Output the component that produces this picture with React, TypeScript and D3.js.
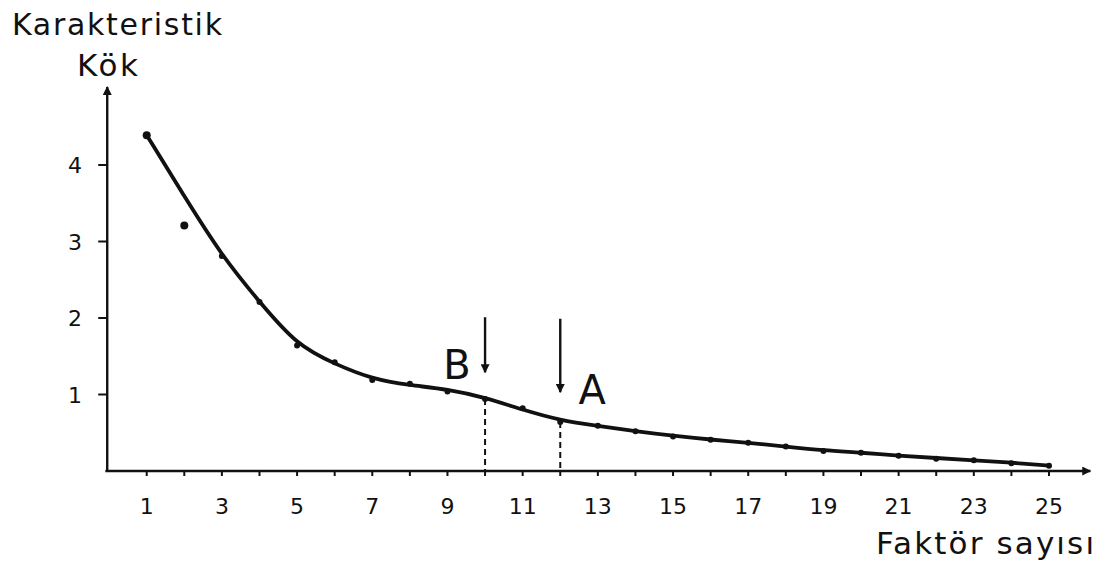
import React, { useEffect, useRef } from "react";
import * as d3 from "d3";

// scree plot data
const factors = [1, 2, 3, 4, 5, 6, 7, 8, 9, 10, 11, 12, 13, 14, 15, 16, 17, 18, 19, 20, 21, 22, 23, 24, 25];
const eigenValues = [4.39, 3.21, 2.81, 2.21, 1.64, 1.42, 1.19, 1.14, 1.04, 0.94, 0.82, 0.64, 0.59, 0.52, 0.45, 0.41, 0.37, 0.32, 0.26, 0.24, 0.2, 0.16, 0.14, 0.1, 0.07];
// hand-drawn smoothing line (passes above the factor 2 point)
const curveValues = [4.39, 3.59, 2.81, 2.21, 1.64, 1.4, 1.2, 1.12, 1.07, 0.96, 0.8, 0.66, 0.59, 0.52, 0.46, 0.41, 0.37, 0.32, 0.27, 0.24, 0.2, 0.17, 0.14, 0.11, 0.07];
const xTickLabels = [1, 3, 5, 7, 9, 11, 13, 15, 17, 19, 21, 23, 25];
const yTickLabels = [1, 2, 3, 4];
const markers = [
  { label: "B", factor: 10, from: 2.01, to: 1.29, labelFactor: 9.25, labelValue: 1.2, cut: 0.94 },
  { label: "A", factor: 12, from: 1.99, to: 1.03, labelFactor: 12.85, labelValue: 0.88, cut: 0.64 },
];

const FONT = "'DejaVu Sans', 'Liberation Sans', sans-serif";

const App = () => {
  const svgRef = useRef<SVGSVGElement>(null);

  useEffect(() => {
    const width = 1108;
    const height = 562;
    const svg = d3.select(svgRef.current).attr("width", width).attr("height", height);
    svg.selectAll("*").remove();

    const x = d3.scaleLinear().domain([1, 25]).range([146.7, 1049]);
    const y = d3.scaleLinear().domain([0, 4]).range([471, 165]);

    const defs = svg.append("defs");
    defs
      .append("marker")
      .attr("id", "head")
      .attr("viewBox", "0 0 10 10")
      .attr("refX", 9)
      .attr("refY", 5)
      .attr("markerWidth", 10)
      .attr("markerHeight", 9)
      .attr("markerUnits", "userSpaceOnUse")
      .attr("orient", "auto")
      .append("path")
      .attr("d", "M0,0 L10,5 L0,10 Z")
      .attr("fill", "#111");

    // axes
    svg
      .append("line")
      .attr("x1", x(-0.1))
      .attr("x2", x(26.1))
      .attr("y1", y(0))
      .attr("y2", y(0))
      .attr("stroke", "#111")
      .attr("stroke-width", 2.4)
      .attr("marker-end", "url(#head)");
    svg
      .append("line")
      .attr("x1", x(-0.05))
      .attr("x2", x(-0.05))
      .attr("y1", y(0) + 1)
      .attr("y2", y(5.02))
      .attr("stroke", "#111")
      .attr("stroke-width", 2.4)
      .attr("marker-end", "url(#head)");

    svg
      .append("g")
      .selectAll("line")
      .data(factors)
      .join("line")
      .attr("x1", (d) => x(d))
      .attr("x2", (d) => x(d))
      .attr("y1", y(0))
      .attr("y2", y(0) + 5)
      .attr("stroke", "#111")
      .attr("stroke-width", 2);

    svg
      .append("g")
      .selectAll("text")
      .data(xTickLabels)
      .join("text")
      .attr("x", (d) => x(d))
      .attr("y", 514)
      .attr("text-anchor", "middle")
      .attr("font-family", FONT)
      .attr("font-size", 22)
      .attr("fill", "#111")
      .text((d) => d);

    svg
      .append("g")
      .selectAll("line")
      .data(yTickLabels)
      .join("line")
      .attr("x1", x(-0.05) - 9)
      .attr("x2", x(-0.05))
      .attr("y1", (d) => y(d))
      .attr("y2", (d) => y(d))
      .attr("stroke", "#111")
      .attr("stroke-width", 2);

    svg
      .append("g")
      .selectAll("text")
      .data(yTickLabels)
      .join("text")
      .attr("x", 82)
      .attr("y", (d) => y(d) + 8)
      .attr("text-anchor", "end")
      .attr("font-family", FONT)
      .attr("font-size", 22)
      .attr("fill", "#111")
      .text((d) => d);

    // axis titles
    svg
      .append("text")
      .attr("x", 12)
      .attr("y", 35)
      .attr("font-family", FONT)
      .attr("font-size", 30)
      .attr("textLength", 210)
      .attr("fill", "#111")
      .text("Karakteristik");
    svg
      .append("text")
      .attr("x", 77)
      .attr("y", 76)
      .attr("font-family", FONT)
      .attr("font-size", 31)
      .attr("textLength", 61)
      .attr("fill", "#111")
      .text("Kök");
    svg
      .append("text")
      .attr("x", 876)
      .attr("y", 554)
      .attr("font-family", FONT)
      .attr("font-size", 31)
      .attr("textLength", 218)
      .attr("fill", "#111")
      .text("Faktör sayısı");

    // dashed drops to the axis
    svg
      .append("g")
      .selectAll("line")
      .data(markers)
      .join("line")
      .attr("x1", (d) => x(d.factor))
      .attr("x2", (d) => x(d.factor))
      .attr("y1", (d) => y(d.cut))
      .attr("y2", y(0))
      .attr("stroke", "#111")
      .attr("stroke-width", 2)
      .attr("stroke-dasharray", "6 4");

    // smoothed line
    const line = d3
      .line<number>()
      .x((d, i) => x(factors[i]))
      .y((d) => y(d))
      .curve(d3.curveBasis);
    svg
      .append("path")
      .datum(curveValues)
      .attr("d", line)
      .attr("fill", "none")
      .attr("stroke", "#111")
      .attr("stroke-width", 3.8)
      .attr("stroke-linecap", "round");

    svg
      .append("g")
      .selectAll("circle")
      .data(eigenValues)
      .join("circle")
      .attr("cx", (d, i) => x(factors[i]))
      .attr("cy", (d) => y(d))
      .attr("r", (d, i) => (i < 2 ? 4 : 3))
      .attr("fill", "#111");

    // B / A arrows
    svg
      .append("g")
      .selectAll("line")
      .data(markers)
      .join("line")
      .attr("x1", (d) => x(d.factor))
      .attr("x2", (d) => x(d.factor))
      .attr("y1", (d) => y(d.from))
      .attr("y2", (d) => y(d.to))
      .attr("stroke", "#111")
      .attr("stroke-width", 2.4)
      .attr("marker-end", "url(#head)");

    svg
      .append("g")
      .selectAll("text")
      .data(markers)
      .join("text")
      .attr("x", (d) => x(d.labelFactor))
      .attr("y", (d) => y(d.labelValue))
      .attr("text-anchor", "middle")
      .attr("font-family", FONT)
      .attr("font-size", 40)
      .attr("fill", "#111")
      .text((d) => d.label);
  }, []);

  return <svg ref={svgRef} style={{ position: "absolute", left: 0, top: 0, background: "#fff" }}></svg>;
};

export default App;
